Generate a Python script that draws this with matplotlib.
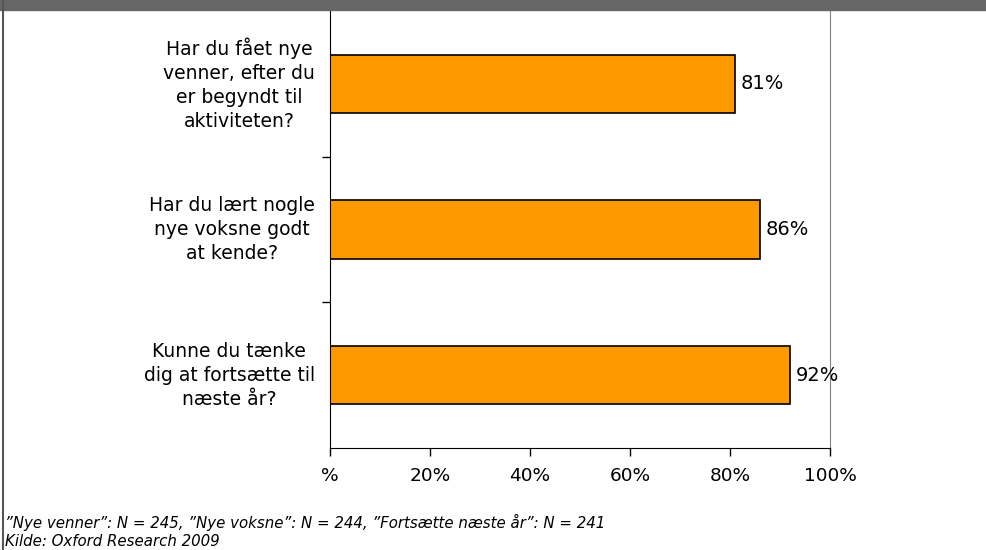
import matplotlib.pyplot as plt
from matplotlib.ticker import FuncFormatter

questions = [
    "Har du fået nye\nvenner, efter du\ner begyndt til\naktiviteten?",
    "Har du lært nogle\nnye voksne godt\nat kende?",
    "Kunne du tænke\ndig at fortsætte til\nnæste år?",
]
values = [81, 86, 92]
x_ticks = [0, 20, 40, 60, 80, 100]
footnote = '\u201dNye venner\u201d: N = 245, \u201dNye voksne\u201d: N = 244, \u201dFortsætte næste år\u201d: N = 241'
source = "Kilde: Oxford Research 2009"

plt.rcParams['font.family'] = ['DejaVu Sans']

fig = plt.figure(figsize=(9.87, 5.5), dpi=100)
ax = fig.add_axes([330 / 987, 1 - 448 / 550, 500 / 987, 437 / 550])

ypos = list(range(len(values)))
ax.barh(ypos, values, height=0.4, color="#FF9900", edgecolor="black", linewidth=1.2)
ax.set_ylim(len(values) - 0.5, -0.5)
ax.set_xlim(0, 100)

for y, v in zip(ypos, values):
    ax.text(v + 1.2, y, f"{v}%", va="center", ha="left", fontsize=14)

ax.set_yticks([0.5, 1.5])
ax.set_yticklabels([])
ax.tick_params(axis="y", length=6, width=1, direction="out")
for y, q in zip(ypos, questions):
    ax.text(-3.0, y, q, ha="right", va="center", multialignment="center",
            fontsize=13.5, linespacing=1.33, transform=ax.transData)

ax.set_xticks(x_ticks)
ax.xaxis.set_major_formatter(FuncFormatter(lambda v, p: "%" if v == 0 else f"{v:.0f}%"))
ax.tick_params(axis="x", length=6, width=1, direction="out", labelsize=13.3, pad=8)

ax.spines["top"].set_visible(False)
ax.spines["right"].set_color("#808080")
ax.spines["left"].set_color("black")
ax.spines["bottom"].set_color("black")

# top band and left frame
fig.patches.append(plt.Rectangle((0, 1 - 10 / 550), 1, 10 / 550, transform=fig.transFigure,
                                 color="#666666", zorder=0))
fig.add_artist(plt.Line2D([3 / 987, 3 / 987], [0, 1], transform=fig.transFigure,
                          color="#555555", linewidth=1.5))

fig.text(5 / 987, 1 - 522 / 550, footnote, fontsize=10.8, style="italic", va="center")
fig.text(5 / 987, 1 - 541 / 550, source, fontsize=10.8, style="italic", va="center")

fig.savefig("out.png", dpi=100)
